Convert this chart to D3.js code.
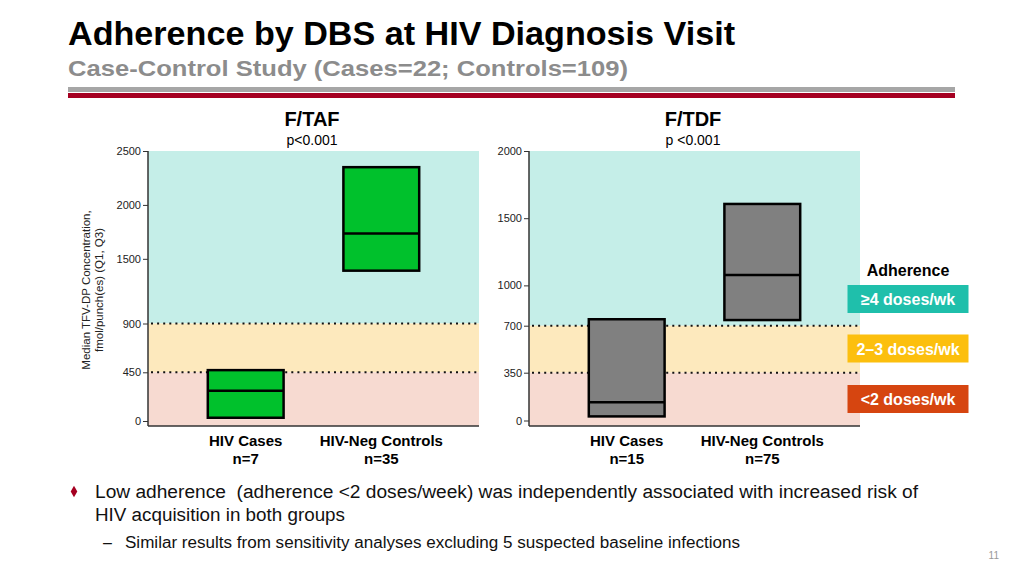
<!DOCTYPE html>
<html>
<head>
<meta charset="utf-8">
<script src="https://cdn.jsdelivr.net/npm/d3@7"></script>
<style>
  html, body { margin: 0; padding: 0; background: #fff; }
  svg { display: block; font-family: "Liberation Sans", Arial, sans-serif; }
</style>
</head>
<body>
<svg id="chart" width="1024" height="576"></svg>
<script>
// ---- data ----
const categories = ["HIV Cases", "HIV-Neg Controls"];
const tafN = [7, 35];
const tdfN = [15, 75];
const tafQ1 = [30, 1390];
const tafMedian = [280, 1735];
const tafQ3 = [470, 2350];
const tdfQ1 = [30, 742];
const tdfMedian = [133, 1077];
const tdfQ3 = [748, 1606];
const tafTicks = [0, 450, 900, 1500, 2000, 2500];
const tdfTicks = [0, 350, 700, 1000, 1500, 2000];
const tafThresholds = [450, 900];
const tdfThresholds = [350, 700];
const legendLabels = ["≥4 doses/wk", "2–3 doses/wk", "<2 doses/wk"];
const bandColors = ["#c5eee8", "#fde9bd", "#f7dad1"];
const legendColors = ["#1fbfab", "#fcbf0e", "#d64510"];

const svg = d3.select("#chart");

// ---- header ----
svg.append("text").attr("x", 68).attr("y", 44.5)
  .attr("font-size", 33).attr("font-weight", "bold").attr("fill", "#000")
  .attr("textLength", 667).attr("lengthAdjust", "spacingAndGlyphs")
  .text("Adherence by DBS at HIV Diagnosis Visit");
svg.append("text").attr("x", 68).attr("y", 75.5)
  .attr("font-size", 21.5).attr("font-weight", "bold").attr("fill", "#8c8c8c")
  .attr("textLength", 560).attr("lengthAdjust", "spacingAndGlyphs")
  .text("Case-Control Study (Cases=22; Controls=109)");
svg.append("rect").attr("x", 68).attr("y", 87).attr("width", 887).attr("height", 5).attr("fill", "#a6a6a6");
svg.append("rect").attr("x", 68).attr("y", 93).attr("width", 887).attr("height", 5).attr("fill", "#a50021");

// ---- panels ----
function panel(cfg) {
  const g = svg.append("g");
  const [x0, x1] = cfg.xRange;
  const yTop = 151, yBot = 426;
  const y = d3.scaleLinear().domain(cfg.yDomain).range(cfg.yRange);
  const x = d3.scaleBand().domain(categories).range([x0, x1])
    .paddingInner(0.441).paddingOuter(0.441);
  const top = cfg.yDomain[cfg.yDomain.length - 1];

  // bands
  const bands = [
    [cfg.thresholds[1], top, bandColors[0]],
    [cfg.thresholds[0], cfg.thresholds[1], bandColors[1]],
    [0, cfg.thresholds[0], bandColors[2]]
  ];
  bands.forEach((b, i) => {
    const yb = i === 2 ? yBot : y(b[0]);
    g.append("rect").attr("x", x0).attr("width", x1 - x0)
      .attr("y", y(b[1])).attr("height", yb - y(b[1])).attr("fill", b[2]);
  });
  // dotted threshold lines
  cfg.thresholds.forEach(t => {
    g.append("line").attr("x1", x0 + 3).attr("x2", x1 - 2)
      .attr("y1", y(t)).attr("y2", y(t))
      .attr("stroke", "#111").attr("stroke-width", 2)
      .attr("stroke-dasharray", "2,4.1");
  });
  // boxes
  categories.forEach((c, i) => {
    g.append("rect").attr("x", x(c)).attr("width", x.bandwidth())
      .attr("y", y(cfg.q3[i])).attr("height", y(cfg.q1[i]) - y(cfg.q3[i]))
      .attr("fill", cfg.fill).attr("stroke", "#000").attr("stroke-width", 2.5);
    g.append("line").attr("x1", x(c)).attr("x2", x(c) + x.bandwidth())
      .attr("y1", y(cfg.med[i])).attr("y2", y(cfg.med[i]))
      .attr("stroke", "#000").attr("stroke-width", 2.5);
    // category labels
    g.append("text").attr("x", x(c) + x.bandwidth() / 2).attr("y", 445.5)
      .attr("text-anchor", "middle").attr("font-size", 15).attr("font-weight", "bold")
      .text(c);
    g.append("text").attr("x", x(c) + x.bandwidth() / 2).attr("y", 463.5)
      .attr("text-anchor", "middle").attr("font-size", 15).attr("font-weight", "bold")
      .text("n=" + cfg.n[i]);
  });
  // y axis
  const ax = g.append("g").attr("transform", `translate(${x0},0)`)
    .call(d3.axisLeft(y).tickValues(cfg.ticks).tickFormat(d3.format("d"))
      .tickSize(5).tickPadding(2).tickSizeOuter(0));
  ax.select(".domain").remove();
  ax.selectAll(".tick line").attr("stroke", "#333");
  ax.selectAll(".tick text").attr("font-size", 11).attr("fill", "#222")
    .attr("font-family", "Liberation Sans, Arial, sans-serif");
  g.append("line").attr("x1", x0).attr("x2", x0).attr("y1", yTop).attr("y2", yBot)
    .attr("stroke", "#333").attr("stroke-width", 1.5);
  g.append("line").attr("x1", x0).attr("x2", x1).attr("y1", yBot).attr("y2", yBot)
    .attr("stroke", "#333").attr("stroke-width", 1.5);
  // titles
  const cx = (x0 + x1) / 2 - 1.5;
  g.append("text").attr("x", cx).attr("y", 126).attr("text-anchor", "middle")
    .attr("font-size", 20).attr("font-weight", "bold").text(cfg.title);
  g.append("text").attr("x", cx).attr("y", 145).attr("text-anchor", "middle")
    .attr("font-size", 14).text(cfg.p);
}

panel({
  xRange: [148, 479], yDomain: [0, 450, 900, 2500], yRange: [421, 372.3, 323.5, 151],
  thresholds: tafThresholds, ticks: tafTicks, fill: "#00c12c",
  q1: tafQ1, med: tafMedian, q3: tafQ3, n: tafN, title: "F/TAF", p: "p<0.001"
});
panel({
  xRange: [529, 860], yDomain: [0, 350, 700, 2000], yRange: [420.5, 372.7, 325.7, 151],
  thresholds: tdfThresholds, ticks: tdfTicks, fill: "#808080",
  q1: tdfQ1, med: tdfMedian, q3: tdfQ3, n: tdfN, title: "F/TDF", p: "p <0.001"
});

// y-axis title
const yt = svg.append("g").attr("transform", "translate(90,290) rotate(-90)");
yt.append("text").attr("text-anchor", "middle").attr("font-size", 11.5).attr("fill", "#222")
  .text("Median TFV-DP Concentration,");
yt.append("text").attr("y", 13).attr("text-anchor", "middle").attr("font-size", 11.5).attr("fill", "#222")
  .text("fmol/punch(es) (Q1, Q3)");

// legend
svg.append("text").attr("x", 908).attr("y", 275.5).attr("text-anchor", "middle")
  .attr("font-size", 16).attr("font-weight", "bold").text("Adherence");
const legY = [285, 334.5, 385];
legendLabels.forEach((l, i) => {
  svg.append("rect").attr("x", 847.5).attr("y", legY[i]).attr("width", 121).attr("height", 28)
    .attr("fill", legendColors[i]);
  svg.append("text").attr("x", 908).attr("y", legY[i] + 20).attr("text-anchor", "middle")
    .attr("font-size", 16).attr("font-weight", "bold").attr("fill", "#fff").text(l);
});

// bullets
svg.append("path").attr("d", d3.symbol(d3.symbolDiamond, 38)())
  .attr("transform", "translate(74,491.5)").attr("fill", "#a50021");
svg.append("text").attr("x", 95).attr("y", 497.7).attr("font-size", 18).attr("fill", "#111")
  .style("white-space", "pre")
  .attr("textLength", 823).attr("lengthAdjust", "spacingAndGlyphs")
  .text("Low adherence  (adherence <2 doses/week) was independently associated with increased risk of");
svg.append("text").attr("x", 95).attr("y", 520.5).attr("font-size", 18).attr("fill", "#111")
  .attr("textLength", 250).attr("lengthAdjust", "spacingAndGlyphs")
  .text("HIV acquisition in both groups");
svg.append("text").attr("x", 103).attr("y", 548).attr("font-size", 16).attr("fill", "#111").text("–");
svg.append("text").attr("x", 125).attr("y", 548).attr("font-size", 16).attr("fill", "#111")
  .attr("textLength", 615).attr("lengthAdjust", "spacingAndGlyphs")
  .text("Similar results from sensitivity analyses excluding 5 suspected baseline infections");
svg.append("text").attr("x", 999).attr("y", 559).attr("text-anchor", "end")
  .attr("font-size", 10).attr("fill", "#999").text("11");
</script>
</body>
</html>
